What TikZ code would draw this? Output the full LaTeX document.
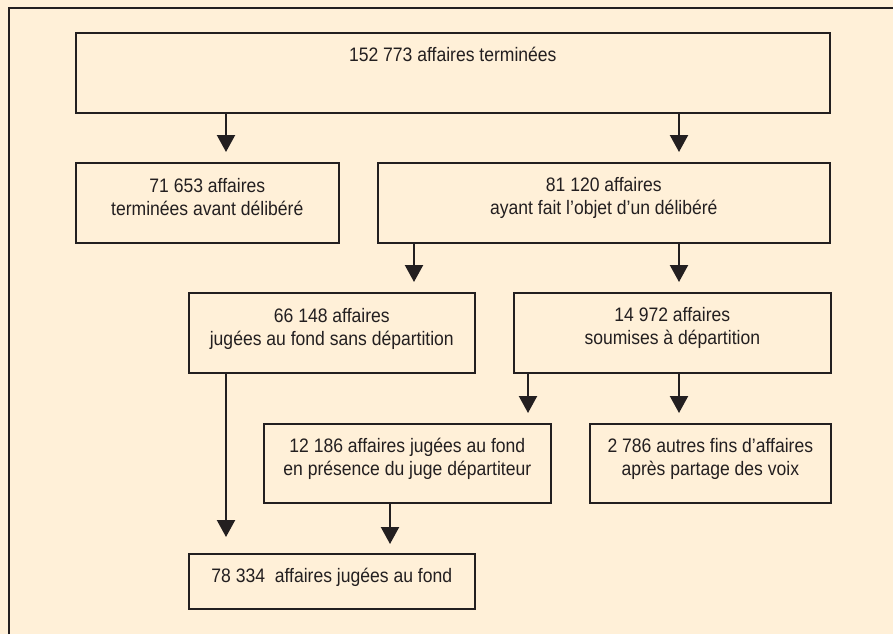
\documentclass[tikz,border=0pt]{standalone}
\usepackage{fontspec}
\setmainfont{Liberation Sans}[FakeStretch=0.9]
\usetikzlibrary{arrows.meta,positioning}
\definecolor{creme}{RGB}{255,240,216}
\definecolor{encre}{RGB}{35,31,32}
\tikzset{boite/.style={draw=encre, line width=1.6pt, rectangle, anchor=north west, inner sep=0pt}}
\tikzstyle{libelle}=[text=encre, align=center, inner sep=0pt, anchor=base, font=\fontsize{19.5}{23}\selectfont]
\tikzstyle{fleche}=[->, draw=encre, line width=2.2pt, shorten >=10pt]

\begin{document}
\begin{tikzpicture}[x=1pt, y=-1pt, >={Triangle[width=18pt,length=17pt]}]
\fill[creme] (0,0) rectangle (893,634);
\useasboundingbox (0,0) rectangle (893,634);
\draw[encre, line width=2pt] (9,634) -- (9,8) -- (893,8);

% boites
\node[boite, minimum width=754pt, minimum height=80pt] (total) at (75,32) {};
\node[boite, minimum width=263pt, minimum height=80pt] (avant) at (75,162) {};
\node[boite, minimum width=452pt, minimum height=80pt] (delib) at (377,162) {};
\node[boite, minimum width=286pt, minimum height=80pt] (sans) at (188,292) {};
\node[boite, minimum width=317pt, minimum height=80pt] (soumis) at (513,292) {};
\node[boite, minimum width=287pt, minimum height=79pt] (presence) at (263,423) {};
\node[boite, minimum width=241pt, minimum height=79pt] (autres) at (589,423) {};
\node[boite, minimum width=286pt, minimum height=55pt] (fond) at (188,553) {};

% textes (base = derniere ligne)
\node[libelle] (t-total) at ([yshift=-29pt]total.north) {152 773 affaires terminées};
\node[libelle] (t-avant) at ([yshift=-53pt]avant.north) {71 653 affaires\\terminées avant délibéré};
\node[libelle] (t-delib) at ([yshift=-52pt]delib.north) {81 120 affaires\\ayant fait l’objet d’un délibéré};
\node[libelle] (t-sans) at ([yshift=-53pt]sans.north) {66 148 affaires\\jugées au fond sans départition};
\node[libelle] (t-soumis) at ([yshift=-52pt]soumis.north) {14 972 affaires\\soumises à départition};
\node[libelle] (t-presence) at ([yshift=-52pt]presence.north) {12 186 affaires jugées au fond\\en présence du juge départiteur};
\node[libelle] (t-autres) at ([yshift=-52pt]autres.north) {2 786 autres fins d’affaires\\après partage des voix};
\node[libelle] (t-fond) at ([yshift=-29pt]fond.north) {78 334\ \ affaires jugées au fond};

% fleches
\draw[fleche] ([xshift=151pt]total.south west) coordinate (d1) -- (d1 |- avant.north);
\draw[fleche] ([xshift=604pt]total.south west) coordinate (d2) -- (d2 |- delib.north);
\draw[fleche] ([xshift=37pt]delib.south west) coordinate (d3) -- (d3 |- sans.north);
\draw[fleche] ([xshift=302pt]delib.south west) coordinate (d4) -- (d4 |- soumis.north);
\draw[fleche, shorten >=16pt] ([xshift=38pt]sans.south west) coordinate (d5) -- (d5 |- fond.north);
\draw[fleche] ([xshift=15pt]soumis.south west) coordinate (d6) -- (d6 |- presence.north);
\draw[fleche] ([xshift=166pt]soumis.south west) coordinate (d7) -- (d7 |- autres.north);
\draw[fleche, shorten >=9pt] ([xshift=127pt]presence.south west) coordinate (d8) -- (d8 |- fond.north);
\end{tikzpicture}
\end{document}
